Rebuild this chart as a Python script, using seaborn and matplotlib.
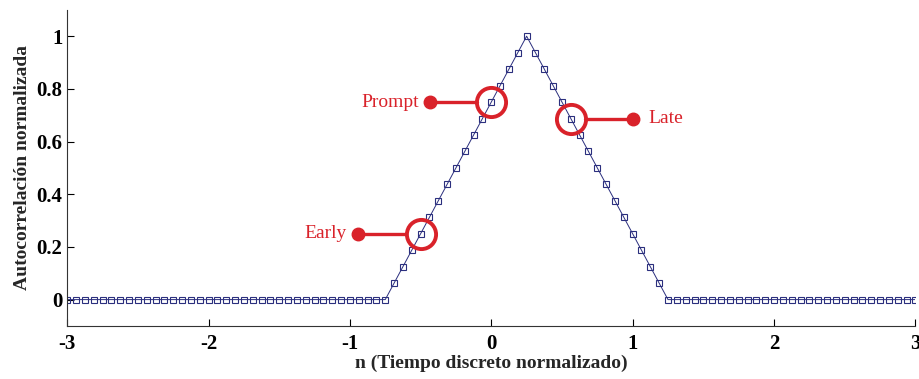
import numpy as np
import pandas as pd
import matplotlib
matplotlib.use('Agg')
import matplotlib.pyplot as plt
import seaborn as sns

# Sampled autocorrelation (97 samples, n from -3 to 3)
n_samples = np.linspace(-3, 3, 97)
zeros_left = [0.0, 0.0, 0.0, 0.0, 0.0, 0.0, 0.0, 0.0, 0.0, 0.0, 0.0, 0.0,
              0.0, 0.0, 0.0, 0.0, 0.0, 0.0, 0.0, 0.0, 0.0, 0.0, 0.0, 0.0,
              0.0, 0.0, 0.0, 0.0, 0.0, 0.0, 0.0, 0.0, 0.0, 0.0, 0.0, 0.0, 0.0]
rising = [0.0625, 0.125, 0.1875, 0.25, 0.3125, 0.375, 0.4375, 0.5,
          0.5625, 0.625, 0.6875, 0.75, 0.8125, 0.875, 0.9375, 1.0]
falling = [0.9375, 0.875, 0.8125, 0.75, 0.6875, 0.625, 0.5625, 0.5,
           0.4375, 0.375, 0.3125, 0.25, 0.1875, 0.125, 0.0625, 0.0]
zeros_right = [0.0, 0.0, 0.0, 0.0, 0.0, 0.0, 0.0, 0.0, 0.0, 0.0, 0.0, 0.0, 0.0, 0.0,
               0.0, 0.0, 0.0, 0.0, 0.0, 0.0, 0.0, 0.0, 0.0, 0.0, 0.0, 0.0, 0.0, 0.0]
autocorr = zeros_left + rising + falling + zeros_right

# Correlator taps
tap_labels = ['Early', 'Prompt', 'Late']
tap_x = [-0.5, 0.0, 0.5625]
tap_y = [0.25, 0.75, 0.6875]
dot_x = [-0.94, -0.43, 1.0]

df = pd.DataFrame({'n': n_samples, 'R': autocorr})

sns.set_style('ticks')
plt.rcParams['font.family'] = ['Liberation Serif', 'DejaVu Serif']

fig = plt.figure(figsize=(9.2, 3.79), dpi=100)
ax = fig.add_axes([0.073, 0.14, 0.922, 0.834])

navy = '#2b2f7e'
red = '#d9222a'

sns.lineplot(data=df, x='n', y='R', ax=ax, color=navy, linewidth=0.7,
             marker='s', markersize=5, markerfacecolor='none',
             markeredgecolor=navy, markeredgewidth=0.8)

r = 0.1  # circle radius in data units
for lab, cx, cy, dx in zip(tap_labels, tap_x, tap_y, dot_x):
    edge = cx - r if dx < cx else cx + r
    ax.plot([dx, edge], [cy, cy], color=red, linewidth=2.4, zorder=5)
    ax.plot(cx, cy, marker='o', markersize=21, markerfacecolor='none',
            markeredgecolor=red, markeredgewidth=2.8, zorder=5)
    ax.plot(dx, cy, marker='o', markersize=9, color=red, zorder=6)
    if dx < cx:
        ax.text(dx - 0.08, cy, lab, color=red, fontsize=14,
                ha='right', va='center', family=['Liberation Serif'])
    else:
        ax.text(dx + 0.11, cy, lab, color=red, fontsize=14,
                ha='left', va='center', family=['Liberation Serif'])

ax.set_xlim(-3, 3)
ax.set_ylim(-0.1, 1.1)
ax.set_xticks([-3, -2, -1, 0, 1, 2, 3])
ax.set_xticklabels(['-3', '-2', '-1', '0', '1', '2', '3'])
ax.set_yticks([0, 0.2, 0.4, 0.6, 0.8, 1])
ax.set_yticklabels(['0', '0.2', '0.4', '0.6', '0.8', '1'])
ax.tick_params(direction='in', length=5, width=0.8, labelsize=15,
               colors='black')
ax.tick_params(axis='x', pad=6)
for t in ax.get_xticklabels() + ax.get_yticklabels():
    t.set_fontweight('bold')
ax.set_xlabel('n (Tiempo discreto normalizado)', fontsize=14,
              fontweight='bold', labelpad=0)
ax.set_ylabel('Autocorrelación normalizada', fontsize=14,
              fontweight='bold', labelpad=4)
sns.despine(ax=ax)
for s in ['left', 'bottom']:
    ax.spines[s].set_color('#333333')
    ax.spines[s].set_linewidth(0.8)

fig.savefig('out.png', dpi=100)
